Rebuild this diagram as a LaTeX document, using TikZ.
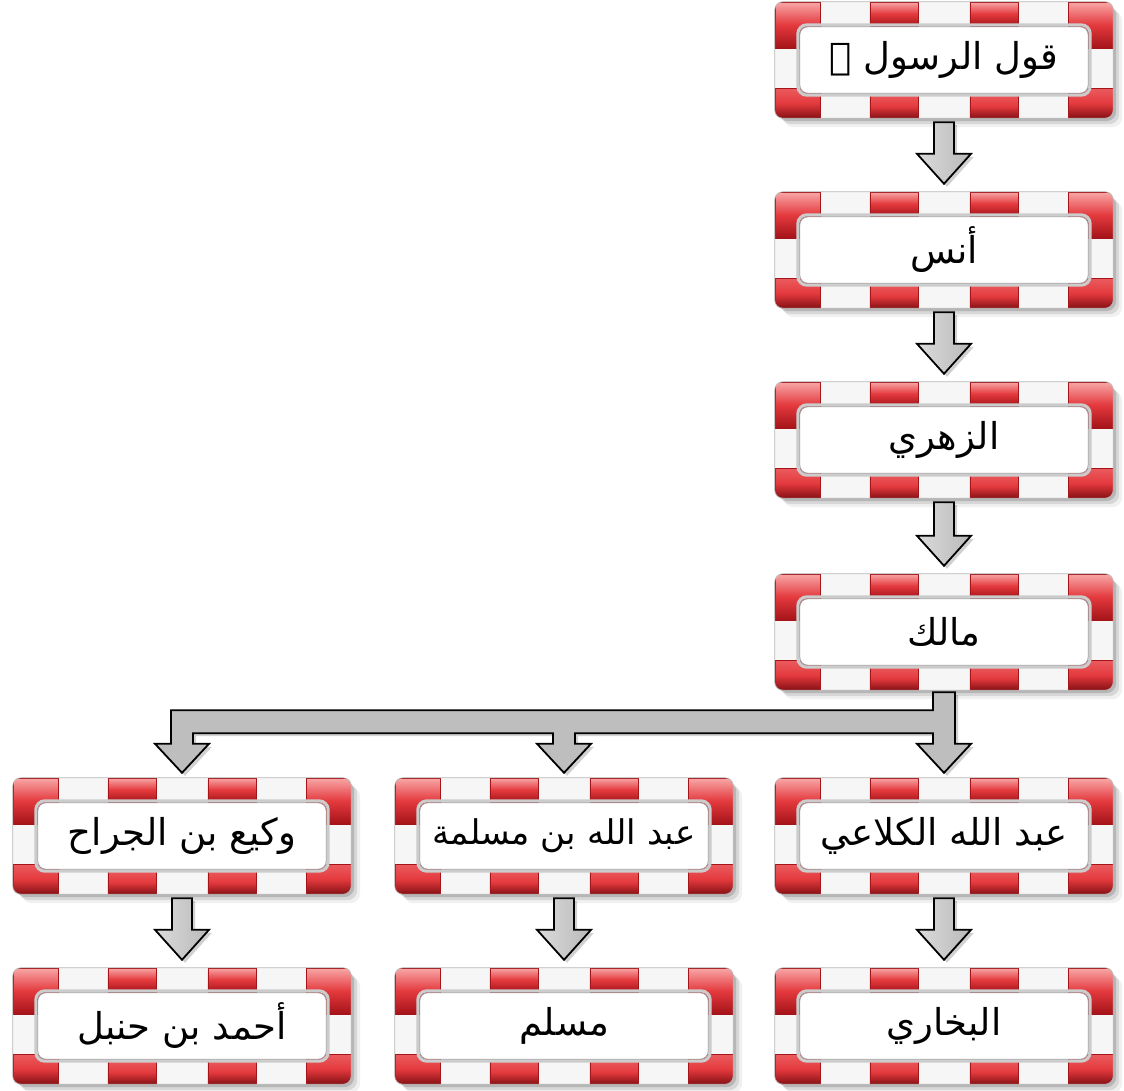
\documentclass[tikz,border=0pt]{standalone}
\usepackage{fontspec}
\usetikzlibrary{calc,backgrounds}
\newfontfamily\arabicfont[Script=Arabic]{DejaVu Sans}
\TeXXeTstate=1
\definecolor{redlight}{RGB}{248,168,168}
\definecolor{redmid}{RGB}{228,58,62}
\definecolor{reddark}{RGB}{165,20,25}
\definecolor{bandbase}{RGB}{246,246,246}
\definecolor{arrgray}{RGB}{190,190,190}
\tikzset{
  boxnode/.style={minimum width=338pt,minimum height=116pt,inner sep=0pt,
    font=\arabicfont\fontsize{37}{44}\selectfont},
  smalltext/.style={font=\arabicfont\fontsize{34}{40}\selectfont},
  redtop/.style={top color=redlight,bottom color=reddark,middle color=redmid,draw=reddark,line width=0.5pt},
  redbot/.style={top color=redmid!70!redlight,bottom color=reddark!80!black,middle color=redmid,draw=reddark,line width=0.5pt},
  garrow/.style={draw=black,line width=1.8pt,line join=miter,left color=gray!28,right color=gray!55},
  branchstyle/.style={draw=black,line width=1.8pt,line join=miter,fill=arrgray},
  shadowstyle/.style={fill=black,opacity=0.18},
}
\newcommand\boxdeco[1]{%
\begin{scope}[on background layer]
  \coordinate (nw) at (#1.north west);
  \coordinate (se) at (#1.south east);
  \coordinate (ne) at (#1.north east);
  \coordinate (sw) at (#1.south west);
  \foreach \d/\o in {3/0.15,6/0.1,9/0.06}
    \fill[black,opacity=\o,rounded corners=10pt] ($(nw)+(\d,\d)$) rectangle ($(se)+(\d,\d)$);
  \fill[bandbase,rounded corners=8pt] (nw) rectangle (se);
  \begin{scope}
    \clip[rounded corners=8pt] (nw) rectangle (se);
    \shade[redtop] (nw) rectangle ($(nw)+(45,46)$);
    \shade[redtop] ($(ne)+(-45,0)$) rectangle ($(ne)+(0,46)$);
    \shade[redtop] ($(nw)+(95,0)$) rectangle ($(nw)+(143,24)$);
    \shade[redtop] ($(nw)+(195,0)$) rectangle ($(nw)+(243,24)$);
    \shade[redbot] ($(sw)+(0,-30)$) rectangle ($(sw)+(45,0)$);
    \shade[redbot] ($(se)+(-45,-30)$) rectangle (se);
    \shade[redbot] ($(sw)+(95,-24)$) rectangle ($(sw)+(143,0)$);
    \shade[redbot] ($(sw)+(195,-24)$) rectangle ($(sw)+(243,0)$);
  \end{scope}
  \draw[gray!55,line width=0.7pt,rounded corners=8pt] (nw) rectangle (se);
  \draw[gray!40,line width=3pt,rounded corners=9pt] ($(nw)+(23,23)$) rectangle ($(se)+(-23,-23)$);
  \fill[white,rounded corners=8pt] ($(nw)+(25,25)$) rectangle ($(se)+(-25,-25)$);
  \draw[gray!75,line width=0.8pt,rounded corners=8pt] ($(nw)+(25,25)$) rectangle ($(se)+(-25,-25)$);
\end{scope}}
\newcommand\downarr[2]{%
  \fill[shadowstyle] ($(#1.south)+(-7,7)$) -- ($(#2.north)+(-7,-35)$) -- ($(#2.north)+(-24,-35)$) -- ($(#2.north)+(3,-5)$) -- ($(#2.north)+(30,-35)$) -- ($(#2.north)+(13,-35)$) -- ($(#1.south)+(13,7)$) -- cycle;
  \path[garrow] ($(#1.south)+(-10,4)$) -- ($(#2.north)+(-10,-38)$) -- ($(#2.north)+(-27,-38)$) -- ($(#2.north)+(0,-8)$) -- ($(#2.north)+(27,-38)$) -- ($(#2.north)+(10,-38)$) -- ($(#1.south)+(10,4)$) -- cycle;}
\begin{document}
\begin{tikzpicture}[x=1pt,y=-1pt]
\begin{scope}[on background layer]
  \fill[white] (0,0) rectangle (1124,1090);
\end{scope}
\useasboundingbox (0,0) rectangle (1124,1090);
\node[boxnode] (rasul) at (944,60) {\beginR قول الرسول ﷺ\endR};
\node[boxnode] (anas) at (944,250) {\beginR أنس\endR};
\node[boxnode] (zuhri) at (944,440) {\beginR الزهري\endR};
\node[boxnode] (malik) at (944,632) {\beginR مالك\endR};
\node[boxnode] (kalaai) at (944,836) {\beginR عبد الله الكلاعي\endR};
\node[boxnode,smalltext] (maslama) at (564,836) {\beginR عبد الله بن مسلمة\endR};
\node[boxnode] (wakee) at (182,836) {\beginR وكيع بن الجراح\endR};
\node[boxnode] (bukhari) at (944,1026) {\beginR البخاري\endR};
\node[boxnode] (muslim) at (564,1026) {\beginR مسلم\endR};
\node[boxnode] (ahmad) at (182,1026) {\beginR أحمد بن حنبل\endR};
\foreach \n in {rasul,anas,zuhri,malik,kalaai,maslama,wakee,bukhari,muslim,ahmad}{\boxdeco{\n}}
\downarr{rasul}{anas}
\downarr{anas}{zuhri}
\downarr{zuhri}{malik}
\downarr{kalaai}{bukhari}
\downarr{maslama}{muslim}
\downarr{wakee}{ahmad}
% branch connector
\fill[shadowstyle]
  ($(malik.south)+(-8,5)$) -- ($(malik.south)+(-8,23)$)
  -- ($(wakee.north |- malik.south)+(-8,23)$)
  -- ($(wakee.north)+(-8,-31)$) -- ($(wakee.north)+(-24,-31)$) -- ($(wakee.north)+(3,-2)$)
  -- ($(wakee.north)+(30,-31)$) -- ($(wakee.north)+(14,-31)$)
  -- ($(wakee.north |- malik.south)+(14,46)$)
  -- ($(maslama.north |- malik.south)+(-8,46)$)
  -- ($(maslama.north)+(-8,-31)$) -- ($(maslama.north)+(-24,-31)$) -- ($(maslama.north)+(3,-2)$)
  -- ($(maslama.north)+(30,-31)$) -- ($(maslama.north)+(14,-31)$)
  -- ($(maslama.north |- malik.south)+(14,46)$)
  -- ($(malik.south)+(-8,46)$)
  -- ($(kalaai.north)+(-8,-31)$) -- ($(kalaai.north)+(-24,-31)$) -- ($(kalaai.north)+(3,-2)$)
  -- ($(kalaai.north)+(30,-31)$) -- ($(kalaai.north)+(14,-31)$)
  -- ($(malik.south)+(14,5)$) -- cycle;
\path[branchstyle]
  ($(malik.south)+(-11,2)$) -- ($(malik.south)+(-11,20)$)
  -- ($(wakee.north |- malik.south)+(-11,20)$)
  -- ($(wakee.north)+(-11,-34)$) -- ($(wakee.north)+(-27,-34)$) -- ($(wakee.north)+(0,-5)$)
  -- ($(wakee.north)+(27,-34)$) -- ($(wakee.north)+(11,-34)$)
  -- ($(wakee.north |- malik.south)+(11,43)$)
  -- ($(maslama.north |- malik.south)+(-11,43)$)
  -- ($(maslama.north)+(-11,-34)$) -- ($(maslama.north)+(-27,-34)$) -- ($(maslama.north)+(0,-5)$)
  -- ($(maslama.north)+(27,-34)$) -- ($(maslama.north)+(11,-34)$)
  -- ($(maslama.north |- malik.south)+(11,43)$)
  -- ($(malik.south)+(-11,43)$)
  -- ($(kalaai.north)+(-11,-34)$) -- ($(kalaai.north)+(-27,-34)$) -- ($(kalaai.north)+(0,-5)$)
  -- ($(kalaai.north)+(27,-34)$) -- ($(kalaai.north)+(11,-34)$)
  -- ($(malik.south)+(11,2)$) -- cycle;
\end{tikzpicture}
\end{document}
